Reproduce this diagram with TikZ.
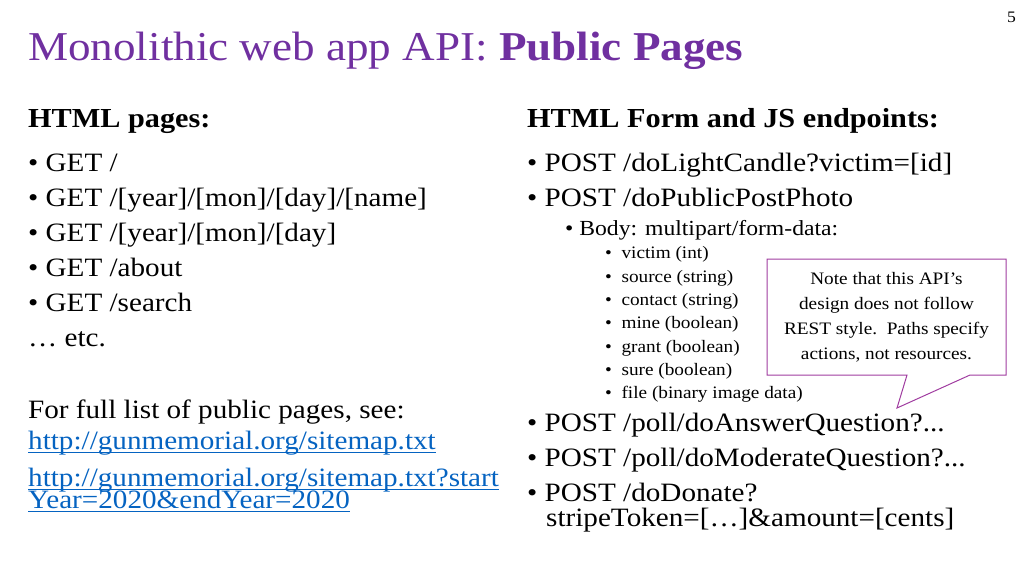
\documentclass[tikz,border=0pt]{standalone}
\usepackage{fontspec}
\setmainfont{Liberation Serif}[FakeStretch=1.1]
\begin{document}
\begin{tikzpicture}[x=1pt,y=-1pt,
  t/.style={anchor=base west,inner sep=0pt},
  big/.style={t,font=\fontsize{26.5}{28}\selectfont},
  mid/.style={t,font=\fontsize{21.5}{24}\selectfont},
  sml/.style={t,font=\fontsize{17.5}{20}\selectfont},
  lnk/.style={big,text=linkblue},
]
\definecolor{ttl}{RGB}{112,48,160}
\definecolor{linkblue}{RGB}{5,99,193}
\definecolor{callout}{RGB}{160,60,160}
\useasboundingbox (0,0) rectangle (1024,576);
\node[anchor=base east,inner sep=0pt,font=\fontsize{16}{18}\selectfont] (pg) at (1016,22) {5};
\node[t,font=\fontsize{41}{44}\selectfont,text=ttl] (title) at (28,60) {Monolithic web app API: \textbf{Public Pages}};
\node[big,font=\fontsize{27.5}{30}\selectfont\bfseries] (h1) at (28,127) {HTML pages:};
\node[big,font=\fontsize{27.5}{30}\selectfont\bfseries] (h2) at (527,127) {HTML Form and JS endpoints:};
% left column
\node[big] (l1) at (28,171) {\textbullet\ GET /};
\node[big] (l2) at (28,206) {\textbullet\ GET /[year]/[mon]/[day]/[name]};
\node[big] (l3) at (28,241) {\textbullet\ GET /[year]/[mon]/[day]};
\node[big] (l4) at (28,276) {\textbullet\ GET /about};
\node[big] (l5) at (28,311) {\textbullet\ GET /search};
\node[big] (l6) at (28,346) {\ldots\ etc.};
\node[big] (l7) at (28,418) {For full list of public pages, see:};
\node[lnk] (u1) at (28,449) {http://gunmemorial.org/sitemap.txt};
\node[lnk] (u2) at (28,486) {http://gunmemorial.org/sitemap.txt?start};
\node[lnk] (u3) at (28,508) {Year=2020\&endYear=2020};
\draw[linkblue,line width=0.8pt] ([yshift=-3pt]u1.base west) -- ([yshift=-3pt]u1.base east);
\draw[linkblue,line width=0.8pt] ([yshift=-3pt]u2.base west) -- ([yshift=-3pt]u2.base east);
\draw[linkblue,line width=0.8pt] ([yshift=-3pt]u3.base west) -- ([yshift=-3pt]u3.base east);
% right column
\node[big] (r1) at (527,171) {\textbullet\ POST /doLightCandle?victim=[id]};
\node[big] (r2) at (527,206) {\textbullet\ POST /doPublicPostPhoto};
\node[mid] (r3) at (565,235) {\textbullet\ Body: multipart/form-data:};
\node[sml] (s1) at (605,258) {\textbullet\ \ victim (int)};
\node[sml] (s2) at (605,282) {\textbullet\ \ source (string)};
\node[sml] (s3) at (605,305) {\textbullet\ \ contact (string)};
\node[sml] (s4) at (605,328) {\textbullet\ \ mine (boolean)};
\node[sml] (s5) at (605,352) {\textbullet\ \ grant (boolean)};
\node[sml] (s6) at (605,375) {\textbullet\ \ sure (boolean)};
\node[sml] (s7) at (605,398) {\textbullet\ \ file (binary image data)};
\node[big] (r4) at (527,431) {\textbullet\ POST /poll/doAnswerQuestion?...};
\node[big] (r5) at (527,466) {\textbullet\ POST /poll/doModerateQuestion?...};
\node[big] (r6) at (527,501) {\textbullet\ POST /doDonate?};
\node[big] (r7) at (546,526) {stripeToken=[\ldots]\&amount=[cents]};
% callout
\draw[callout,line width=1pt,fill=white] (767,259) -- (1006,259) -- (1006,375) -- (970,375) -- (897,408) -- (907,375) -- (767,375) -- cycle;
\node[font=\fontsize{17.5}{25}\selectfont,align=center,inner sep=0pt] (note) at (886.5,317) {Note that this API's\\design does not follow\\REST style.\ \ Paths specify\\actions, not resources.};
\end{tikzpicture}
\end{document}
